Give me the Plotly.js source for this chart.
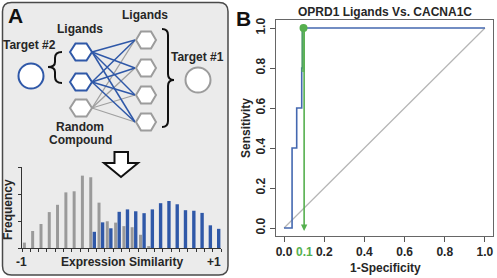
<!DOCTYPE html>
<html>
<head>
<meta charset="utf-8">
<script src="https://cdn.plot.ly/plotly-3.0.1.min.js"></script>
<style>html,body{margin:0;padding:0;background:#fff;}#chart{width:497px;height:278px;}</style>
</head>
<body>
<div id="chart"></div>
<script>
// ---------- DATA ----------
// Panel A histogram: bin centres (Expression Similarity) and frequencies
const grayBins = [-0.976,-0.893,-0.809,-0.726,-0.643,-0.559,-0.476,-0.393,-0.309,-0.226,-0.143,-0.059,0.024,0.107,0.191,0.274];
const grayFreq = [0.20,0.63,0.89,1.33,1.60,2.06,2.10,2.68,2.62,1.68,0.99,0.94,0.81,0.77,0.49,0.07];
const blueBins = [-0.273,-0.190,-0.107,-0.023,0.060,0.143,0.227,0.310,0.393,0.477,0.560,0.643,0.727,0.810,0.893,0.977];
const blueFreq = [0.60,0.95,0.73,1.34,1.43,1.36,1.29,1.43,1.66,1.74,1.62,1.40,1.38,1.30,0.84,0.71];
const histYTicks = [0,1,2,3];
const histXLabels = ["-1","+1"];

// Panel B ROC curve
const rocFPR = [0,0.04,0.04,0.063,0.063,0.088,0.088,0.092,0.092,1.0];
const rocTPR = [0,0,0.4,0.4,0.6,0.6,0.8,0.8,1.0,1.0];
const chanceX = [0,1];
const chanceY = [0,1];
const cutoffFPR = [0.097];
const cutoffTPR = [1.0];
const rocTicks = [0,0.2,0.4,0.6,0.8,1.0];
const rocTickLabels = ["0.0","0.2","0.4","0.6","0.8","1.0"];
const cutoffLabel = "0.1";

// ---------- LAYOUT HELPERS ----------
const W = 497, H = 278;
const X = p => p / W;
const Y = p => 1 - p / H;
const FONT = "Arial, 'Liberation Sans', sans-serif";
const BLUE = "#2f58a8";
const GRAYC = "#9a9a9a";
const GREEN = "#56b04f";
const TXT = "#262626";

function pt(x, y){ return X(x).toFixed(5) + "," + Y(y).toFixed(5); }
function hexPath(cx, cy, w, h){
  return "M" + pt(cx-w,cy) + " L" + pt(cx-w/2,cy-h) + " L" + pt(cx+w/2,cy-h) +
         " L" + pt(cx+w,cy) + " L" + pt(cx+w/2,cy+h) + " L" + pt(cx-w/2,cy+h) + " Z";
}
function roundRect(x0,y0,x1,y1,r){
  return "M" + pt(x0+r,y0) + " L" + pt(x1-r,y0) + " Q" + pt(x1,y0) + " " + pt(x1,y0+r) +
    " L" + pt(x1,y1-r) + " Q" + pt(x1,y1) + " " + pt(x1-r,y1) +
    " L" + pt(x0+r,y1) + " Q" + pt(x0,y1) + " " + pt(x0,y1-r) +
    " L" + pt(x0,y0+r) + " Q" + pt(x0,y0) + " " + pt(x0+r,y0) + " Z";
}
function pline(x0,y0,x1,y1,color,width){
  return {type:"line", xref:"paper", yref:"paper", x0:X(x0), y0:Y(y0), x1:X(x1), y1:Y(y1),
          line:{color:color, width:width}, layer:"above"};
}

const shapes = [];
// panel A background
shapes.push({type:"path", xref:"paper", yref:"paper", path: roundRect(2.5,2.5,228,275,9),
  fillcolor:"#ebebeb", line:{color:"#4a4a4a", width:1.5}, layer:"below"});

// diagram node positions (pixels)
const leftHexX = 81, rightHexX = 146, hw = 11, hh = 8.5;
const leftHexY = [52, 82], randY = 108;
const rightHexY = [40, 68, 95, 122];
// gray edges first
rightHexY.forEach(ry => shapes.push(pline(leftHexX+hw, randY, rightHexX-hw, ry, "#a0a0a0", 1.3)));
leftHexY.forEach(ly => rightHexY.forEach(ry => shapes.push(pline(leftHexX+hw, ly, rightHexX-hw, ry, BLUE, 1.5))));
// hexagons
leftHexY.forEach(ly => shapes.push({type:"path", xref:"paper", yref:"paper", path:hexPath(leftHexX,ly,hw,hh),
  fillcolor:"#ffffff", line:{color:BLUE, width:2}, layer:"above"}));
shapes.push({type:"path", xref:"paper", yref:"paper", path:hexPath(leftHexX,randY,hw,hh),
  fillcolor:"#ffffff", line:{color:"#9c9c9c", width:2}, layer:"above"});
rightHexY.forEach(ry => shapes.push({type:"path", xref:"paper", yref:"paper", path:hexPath(rightHexX,ry,hw-1,hh),
  fillcolor:"#ffffff", line:{color:"#9c9c9c", width:2}, layer:"above"}));
// targets
shapes.push({type:"circle", xref:"paper", yref:"paper", x0:X(18.5), x1:X(43.5), y0:Y(88.5), y1:Y(63.5),
  fillcolor:"#ffffff", line:{color:BLUE, width:2}, layer:"above"});
shapes.push({type:"circle", xref:"paper", yref:"paper", x0:X(185.5), x1:X(210.5), y0:Y(92.5), y1:Y(67.5),
  fillcolor:"#ffffff", line:{color:"#9c9c9c", width:2}, layer:"above"});
// braces
shapes.push({type:"path", xref:"paper", yref:"paper", layer:"above", line:{color:"#111", width:2},
  path:"M"+pt(62,52)+" Q"+pt(55,52)+" "+pt(55,58)+" L"+pt(55,62)+" Q"+pt(55,67)+" "+pt(48,67)+
       " Q"+pt(55,67)+" "+pt(55,72)+" L"+pt(55,77)+" Q"+pt(55,83)+" "+pt(62,83)});
shapes.push({type:"path", xref:"paper", yref:"paper", layer:"above", line:{color:"#111", width:2},
  path:"M"+pt(162,29)+" Q"+pt(168,29)+" "+pt(168,35)+" L"+pt(168,74)+" Q"+pt(168,80)+" "+pt(174,80)+
       " Q"+pt(168,80)+" "+pt(168,86)+" L"+pt(168,121)+" Q"+pt(168,127)+" "+pt(162,127)});
// hollow down arrow
shapes.push({type:"path", xref:"paper", yref:"paper", layer:"above", fillcolor:"#ffffff", line:{color:"#111", width:2},
  path:"M"+pt(114.5,152)+" L"+pt(128,152)+" L"+pt(128,163)+" L"+pt(138,163)+" L"+pt(121,177)+
       " L"+pt(104,163)+" L"+pt(114.5,163)+" Z"});

function ann(text, x, y, size, color, angle){
  return {text:text, xref:"paper", yref:"paper", x:X(x), y:Y(y), xanchor:"center", yanchor:"middle",
          showarrow:false, textangle: angle||0,
          font:{family:FONT, size:size, color:color||TXT, weight:"bold"}};
}
const annotations = [
  ann("A", 15, 15, 21, "#111"),
  ann("B", 243, 18, 21, "#111"),
  ann("Ligands", 80, 29, 12),
  ann("Ligands", 145, 15, 12),
  ann("Target #2", 29, 45, 12),
  ann("Target #1", 197, 57, 12),
  ann("Random", 80, 127, 12),
  ann("Compound", 80, 140, 12),
  ann("Frequency", 8, 210, 12, TXT, -90),
  ann(histXLabels[0], 21.5, 262, 12),
  ann(histXLabels[1], 214, 262, 12),
  ann("Expression Similarity", 122, 262, 12),
  ann("OPRD1 Ligands Vs. CACNA1C", 385, 12, 12),
  ann("Sensitivity", 246, 128, 12, TXT, -90),
  ann("1-Specificity", 385, 268, 12),
  {text:cutoffLabel, xref:"x", yref:"paper", x:0.1, y:Y(252), xanchor:"center", yanchor:"middle",
   showarrow:false, font:{family:FONT, size:12, color:GREEN, weight:"bold"}},
  {text:"", xref:"x", yref:"y", axref:"x", ayref:"y", x:0.1, y:-0.015, ax:0.1, ay:1.0,
   showarrow:true, arrowhead:2, arrowsize:0.8, arrowwidth:1.6, arrowcolor:GREEN}
];

const traces = [
  {type:"bar", x:grayBins, y:grayFreq, width:0.03, marker:{color:GRAYC}, xaxis:"x2", yaxis:"y2", hoverinfo:"skip"},
  {type:"bar", x:blueBins, y:blueFreq, width:0.034, marker:{color:BLUE}, xaxis:"x2", yaxis:"y2", hoverinfo:"skip"},
  {type:"scatter", mode:"lines", x:chanceX, y:chanceY, line:{color:"#b5b5b5", width:1.2}, xaxis:"x", yaxis:"y"},
  {type:"scatter", mode:"lines", x:rocFPR, y:rocTPR, line:{color:"#4468b0", width:1.6}, xaxis:"x", yaxis:"y"},
  {type:"scatter", mode:"lines", x:[0.095,0.095], y:[0.78,1.0], line:{color:GREEN, width:3.5}, opacity:0.75, xaxis:"x", yaxis:"y"},
  {type:"scatter", mode:"markers", x:cutoffFPR, y:cutoffTPR, marker:{color:GREEN, size:8}, xaxis:"x", yaxis:"y"}
];

const tickFont = {family:FONT, size:12, color:TXT, weight:"bold"};
const layout = {
  width:W, height:H, margin:{l:0,r:0,t:0,b:0},
  paper_bgcolor:"#ffffff", plot_bgcolor:"rgba(0,0,0,0)",
  showlegend:false, barmode:"overlay",
  xaxis:{domain:[X(276),X(493)], range:[-0.04,1.04], tickvals:rocTicks, ticktext:rocTickLabels,
         ticks:"outside", ticklen:5, tickcolor:"#555", showline:true, mirror:true, linecolor:"#666", linewidth:1,
         showgrid:false, zeroline:false, tickfont:tickFont, anchor:"y"},
  yaxis:{domain:[Y(236),Y(20)], range:[-0.04,1.04], tickvals:rocTicks, ticktext:rocTickLabels, tickangle:-90,
         ticks:"outside", ticklen:5, tickcolor:"#555", showline:true, mirror:true, linecolor:"#666", linewidth:1,
         showgrid:false, zeroline:false, tickfont:tickFont, anchor:"x"},
  xaxis2:{domain:[X(22),X(221)], range:[-1,1], tickmode:"linear", tick0:-1, dtick:1/12, showticklabels:false,
          ticks:"outside", ticklen:3, tickcolor:"#333", showline:true, linecolor:"#333", linewidth:1,
          showgrid:false, zeroline:false, anchor:"y2"},
  yaxis2:{domain:[Y(248),Y(167)], range:[0,3], tickvals:histYTicks, showticklabels:false,
          ticks:"outside", ticklen:3, tickcolor:"#333", showline:true, linecolor:"#333", linewidth:1,
          showgrid:false, zeroline:false, anchor:"x2"},
  shapes:shapes, annotations:annotations
};
Plotly.newPlot("chart", traces, layout, {staticPlot:true, displayModeBar:false});
</script>
</body>
</html>
